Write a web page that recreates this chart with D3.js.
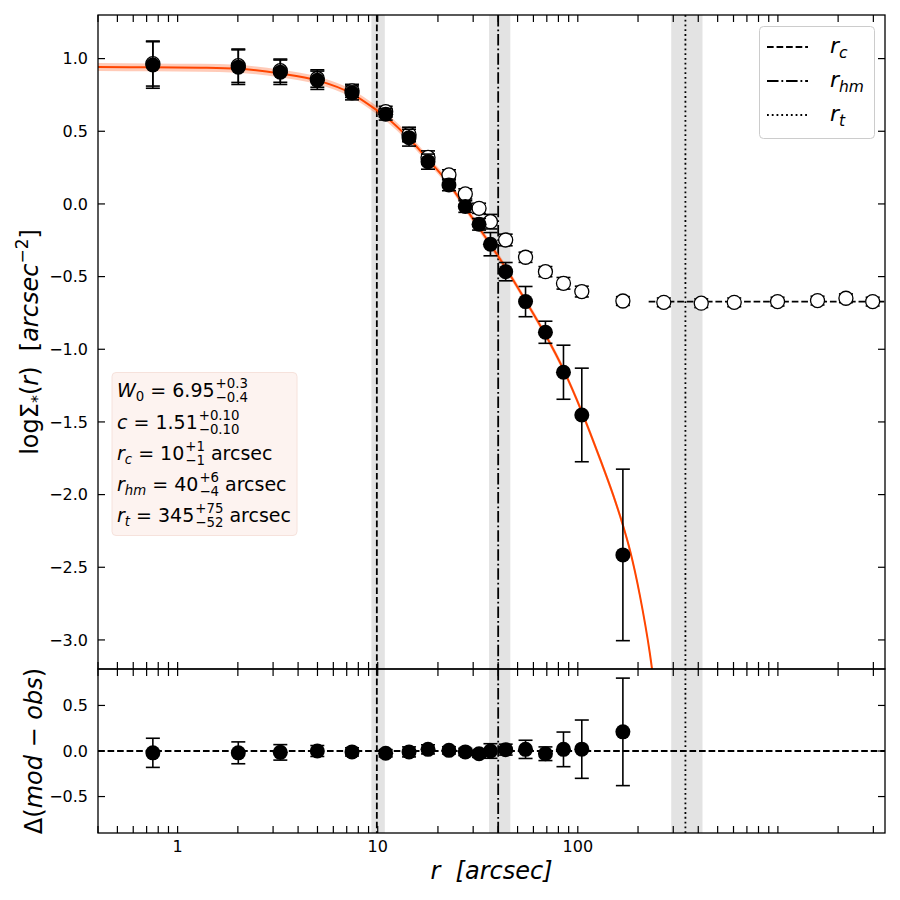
<!DOCTYPE html>
<html><head><meta charset="utf-8">
<script src="https://cdn.jsdelivr.net/npm/d3@7"></script>
<style>body{margin:0;background:#fff} svg{display:block} text{font-family:"DejaVu Sans",sans-serif;fill:#000}</style>
</head><body>
<svg id="c" width="900" height="900"></svg>
<script>
// ---------- data ----------
const rObs = [0.752, 2.01, 3.26, 4.99, 7.44, 10.96, 14.34, 17.84, 22.7, 27.4, 32.1, 36.6, 43.6, 54.8, 68.9, 84.8, 104.7, 168];
const logSigma = [0.956, 0.941, 0.906, 0.851, 0.764, 0.617, 0.456, 0.291, 0.131, -0.018, -0.140, -0.277, -0.466, -0.672, -0.883, -1.158, -1.452, -2.415];
const logSigmaErr = [0.16, 0.119, 0.084, 0.063, 0.048, 0.04, 0.058, 0.052, 0.04, 0.04, 0.04, 0.08, 0.063, 0.104, 0.076, 0.186, 0.322, 0.59];

const rAll = [0.752, 2.01, 3.26, 4.99, 7.44, 10.96, 14.34, 17.84, 22.7, 27.4, 32.1, 36.6, 43.6, 54.8, 68.9, 84.8, 104.7, 168, 269, 414, 605, 996, 1578, 2188, 2976];
const logSigmaAll = [0.966, 0.951, 0.917, 0.863, 0.778, 0.635, 0.478, 0.32, 0.20, 0.069, -0.03, -0.122, -0.248, -0.367, -0.466, -0.546, -0.603, -0.668, -0.677, -0.683, -0.677, -0.672, -0.665, -0.649, -0.672];
const logSigmaAllErr = [0.155, 0.115, 0.08, 0.06, 0.045, 0.037, 0.05, 0.045, 0.035, 0.035, 0.035, 0.05, 0.04, 0.035, 0.035, 0.04, 0.037, 0.03, 0.03, 0.03, 0.03, 0.03, 0.03, 0.03, 0.03];

const bgLevel = -0.672;
const bgStartR = 226;

const rModel = [0.4, 0.75, 1.3, 2.0, 3.26, 4.99, 7.44, 9.85, 10.96, 14.34, 17.84, 22.7, 27.4, 32.1, 36.6, 43.6, 54.8, 68.9, 84.8, 104.7, 130, 150, 168, 182, 204, 229, 257];
const logModel = [0.942, 0.94, 0.937, 0.93, 0.897, 0.85, 0.758, 0.647, 0.60, 0.45, 0.305, 0.138, -0.025, -0.165, -0.28, -0.44, -0.665, -0.90, -1.14, -1.43, -1.765, -2.0, -2.21, -2.38, -2.69, -3.09, -3.63];
const logModelBand = [0.027, 0.027, 0.027, 0.027, 0.027, 0.027, 0.027, 0.027, 0.027, 0.027, 0.025, 0.024, 0.024, 0.024, 0.024, 0.022, 0.022, 0.022, 0.022, 0.022, 0.022, 0.022, 0.022, 0.022, 0.022, 0.022, 0.022];

const resid = [-0.02, -0.02, -0.015, 0.0, -0.01, -0.025, -0.01, 0.018, 0.007, -0.01, -0.03, 0.0, 0.015, 0.018, -0.03, 0.018, 0.02, 0.21];
const residErr = [0.16, 0.12, 0.085, 0.06, 0.045, 0.04, 0.055, 0.05, 0.04, 0.04, 0.04, 0.08, 0.06, 0.1, 0.075, 0.19, 0.32, 0.59];

// characteristic radii: value, lower, upper
const radiiNames = ["c", "hm", "t"];
const radiiVal = [9.9, 40, 345];
const radiiLo = [9.3, 36, 293];
const radiiHi = [10.85, 46, 420];

const yTopTicks = [-3.0, -2.5, -2.0, -1.5, -1.0, -0.5, 0.0, 0.5, 1.0];
const yBotTicks = [-0.5, 0.0, 0.5];
const xTickVals = [1, 10, 100];
const xTickLabels = ["1", "10", "100"];

const paramLines = [
  [{t:"W", it:1}, {t:"0", sub:1}, {t:"\u00a0=\u00a06.95"}, {ss:["+0.3","\u22120.4"]}],
  [{t:"c", it:1}, {t:"\u00a0=\u00a01.51"}, {ss:["+0.10","\u22120.10"]}],
  [{t:"r", it:1}, {t:"c", sub:1, it:1}, {t:"\u00a0=\u00a010"}, {ss:["+1","\u22121"]}, {t:"\u00a0arcsec"}],
  [{t:"r", it:1}, {t:"hm", sub:1, it:1}, {t:"\u00a0=\u00a040"}, {ss:["+6","\u22124"]}, {t:"\u00a0arcsec"}],
  [{t:"r", it:1}, {t:"t", sub:1, it:1}, {t:"\u00a0=\u00a0345"}, {ss:["+75","\u221252"]}, {t:"\u00a0arcsec"}]
];

// ---------- layout ----------
const L = 98, R = 885, T = 15, M = 669, B = 833;
const svg = d3.select("#c");
const x = d3.scaleLog().domain([0.4, 3430]).range([L, R]);
const yT = d3.scaleLinear().domain([-3.2, 1.3]).range([M, T]);
const yB = d3.scaleLinear().domain([-0.9, 0.9]).range([B, M]);

const defs = svg.append("defs");
defs.append("clipPath").attr("id","clipT").append("rect").attr("x",L).attr("y",T).attr("width",R-L).attr("height",M-T);
defs.append("clipPath").attr("id","clipB").append("rect").attr("x",L).attr("y",M).attr("width",R-L).attr("height",B-M);

const gT = svg.append("g").attr("clip-path","url(#clipT)");
const gB = svg.append("g").attr("clip-path","url(#clipB)");

const LW = 1.8;
const dashStyles = [`${3.7*LW},${1.6*LW}`, `${6.4*LW},${1.6*LW},${1*LW},${1.6*LW}`, `${1*LW},${1.65*LW}`];

// grey bands + vertical lines
[[gT, yT], [gB, yB]].forEach(([g, ys]) => {
  radiiVal.forEach((v, i) => {
    g.append("rect").attr("x", x(radiiLo[i])).attr("width", x(radiiHi[i]) - x(radiiLo[i]))
      .attr("y", ys.range()[1]).attr("height", ys.range()[0] - ys.range()[1])
      .attr("fill", "#808080").attr("fill-opacity", 0.22);
  });
});
[[gT, yT], [gB, yB]].forEach(([g, ys]) => {
  radiiVal.forEach((v, i) => {
    g.append("line").attr("x1", x(v)).attr("x2", x(v)).attr("y1", ys.range()[1]).attr("y2", ys.range()[0])
      .attr("stroke", "#000").attr("stroke-width", LW).attr("stroke-dasharray", dashStyles[i]);
  });
});

// background level line
gT.append("line").attr("x1", x(bgStartR)).attr("x2", R).attr("y1", yT(bgLevel)).attr("y2", yT(bgLevel))
  .attr("stroke", "#000").attr("stroke-width", LW).attr("stroke-dasharray", dashStyles[0]);
// zero residual line
gB.append("line").attr("x1", L).attr("x2", R).attr("y1", yB(0)).attr("y2", yB(0))
  .attr("stroke", "#000").attr("stroke-width", LW).attr("stroke-dasharray", dashStyles[0]);

// model band and curve
const modelData = rModel.map((r, i) => ({r, v: logModel[i], e: logModelBand[i]}));
gT.append("path").datum(modelData)
  .attr("d", d3.area().x(d => x(d.r)).y0(d => yT(d.v - d.e)).y1(d => yT(d.v + d.e)).curve(d3.curveMonotoneX))
  .attr("fill", "#ff4500").attr("fill-opacity", 0.28);
gT.append("path").datum(modelData)
  .attr("d", d3.line().x(d => x(d.r)).y(d => yT(d.v)).curve(d3.curveMonotoneX))
  .attr("fill", "none").attr("stroke", "#ff4500").attr("stroke-width", 2);

function errBars(g, ys, xs, vs, es) {
  xs.forEach((r, i) => {
    const cx = x(r), y1 = ys(vs[i] + es[i]), y2 = ys(vs[i] - es[i]);
    g.append("line").attr("x1", cx).attr("x2", cx).attr("y1", y1).attr("y2", y2).attr("stroke", "#000").attr("stroke-width", 1.6);
    [y1, y2].forEach(yy => g.append("line").attr("x1", cx - 7).attr("x2", cx + 7).attr("y1", yy).attr("y2", yy).attr("stroke", "#000").attr("stroke-width", 1.6));
  });
}

// open points (all stars)
errBars(gT, yT, rAll, logSigmaAll, logSigmaAllErr);
gT.selectAll("circle.open").data(rAll).enter().append("circle")
  .attr("cx", d => x(d)).attr("cy", (d, i) => yT(logSigmaAll[i])).attr("r", 7)
  .attr("fill", "#fff").attr("stroke", "#000").attr("stroke-width", 1.3);

// filled points (background-subtracted)
errBars(gT, yT, rObs, logSigma, logSigmaErr);
gT.selectAll("circle.fill").data(rObs).enter().append("circle")
  .attr("cx", d => x(d)).attr("cy", (d, i) => yT(logSigma[i])).attr("r", 7.5).attr("fill", "#000");

// residuals
errBars(gB, yB, rObs, resid, residErr);
gB.selectAll("circle.res").data(rObs).enter().append("circle")
  .attr("cx", d => x(d)).attr("cy", (d, i) => yB(resid[i])).attr("r", 7.5).attr("fill", "#000");

// ---------- axes ----------
const axG = svg.append("g");
const TL = 7;
const xAllTicks = [];
[0.1, 1, 10, 100, 1000].forEach(dec => { for (let k = 1; k <= 9; k++) { const v = k * dec; if (v >= 0.4 && v <= 3430) xAllTicks.push(v); } });
function xTicksAt(y0, dir) {
  xAllTicks.forEach(v => axG.append("line").attr("x1", x(v)).attr("x2", x(v)).attr("y1", y0).attr("y2", y0 + dir * TL).attr("stroke", "#000").attr("stroke-width", 1.2));
}
xTicksAt(T, 1); xTicksAt(M, -1); xTicksAt(M, 1); xTicksAt(B, -1);
function yTicksAt(ys, vals) {
  vals.forEach(v => {
    const yy = ys(v);
    axG.append("line").attr("x1", L).attr("x2", L + TL).attr("y1", yy).attr("y2", yy).attr("stroke", "#000").attr("stroke-width", 1.2);
    axG.append("line").attr("x1", R).attr("x2", R - TL).attr("y1", yy).attr("y2", yy).attr("stroke", "#000").attr("stroke-width", 1.2);
    axG.append("text").attr("x", L - 10).attr("y", yy).attr("dy", "0.36em").attr("text-anchor", "end").attr("font-size", 16).text(d3.format(".1f")(v));
  });
}
yTicksAt(yT, yTopTicks);
yTicksAt(yB, yBotTicks);
xTickVals.forEach((v, i) => axG.append("text").attr("x", x(v)).attr("y", B + 19).attr("text-anchor", "middle").attr("font-size", 16).text(xTickLabels[i]));

axG.append("rect").attr("x", L).attr("y", T).attr("width", R - L).attr("height", M - T).attr("fill", "none").attr("stroke", "#000").attr("stroke-width", 1.3);
axG.append("rect").attr("x", L).attr("y", M).attr("width", R - L).attr("height", B - M).attr("fill", "none").attr("stroke", "#000").attr("stroke-width", 1.3);

// axis labels
const xl = svg.append("text").attr("x", (L + R) / 2).attr("y", 879).attr("text-anchor", "middle").attr("font-size", 24).attr("font-style", "italic");
xl.text("r\u00a0\u00a0[arcsec]");

const yl = svg.append("text").attr("transform", `translate(38,${(T + M) / 2}) rotate(-90)`).attr("text-anchor", "middle").attr("font-size", 24);
yl.append("tspan").text("log\u03a3");
yl.append("tspan").attr("font-size", 16).attr("dy", 5).text("*");
yl.append("tspan").attr("dy", -5).text("(");
yl.append("tspan").attr("font-style", "italic").text("r");
yl.append("tspan").text(")\u00a0\u00a0[");
yl.append("tspan").attr("font-style", "italic").text("arcsec");
yl.append("tspan").attr("font-size", 17).attr("dy", -10).text("\u22122");
yl.append("tspan").attr("dy", 10).text("]");

const yl2 = svg.append("text").attr("transform", `translate(42,${(M + B) / 2}) rotate(-90)`).attr("text-anchor", "middle").attr("font-size", 24);
yl2.append("tspan").text("\u0394(");
yl2.append("tspan").attr("font-style", "italic").text("mod");
yl2.append("tspan").text("\u00a0\u2212\u00a0");
yl2.append("tspan").attr("font-style", "italic").text("obs");
yl2.append("tspan").text(")");

// ---------- parameter box ----------
svg.append("rect").attr("x", 112).attr("y", 372.5).attr("width", 185).attr("height", 163).attr("rx", 4)
  .attr("fill", "#fdf3f0").attr("stroke", "#f6e2dc").attr("stroke-width", 1);
const pg = svg.append("g");
function mathLine(g, x0, y0, parts, fs) {
  let cx = x0;
  parts.forEach(p => {
    if (p.ss) {
      const f = fs * 0.7;
      const a = g.append("text").attr("x", cx + 1).attr("y", y0 - fs * 0.47).attr("font-size", f).text(p.ss[0]);
      const b = g.append("text").attr("x", cx + 1).attr("y", y0 + fs * 0.25).attr("font-size", f).text(p.ss[1]);
      cx += 1 + Math.max(a.node().getComputedTextLength(), b.node().getComputedTextLength());
    } else {
      const t = g.append("text").attr("x", cx).attr("y", y0 + (p.sub ? fs * 0.2 : 0))
        .attr("font-size", p.sub ? fs * 0.7 : fs).attr("font-style", p.it ? "italic" : "normal").text(p.t);
      cx += t.node().getComputedTextLength();
    }
  });
}
const baseY = [397, 429, 460, 491, 522];
paramLines.forEach((ln, i) => mathLine(pg, 117, baseY[i], ln, 19));

// ---------- legend ----------
svg.append("rect").attr("x", 759.5).attr("y", 26.5).attr("width", 115).attr("height", 112).attr("rx", 4)
  .attr("fill", "#fff").attr("fill-opacity", 0.8).attr("stroke", "#cccccc");
const legY = [47, 81, 115];
radiiNames.forEach((n, i) => {
  svg.append("line").attr("x1", 767).attr("x2", 808).attr("y1", legY[i]).attr("y2", legY[i])
    .attr("stroke", "#000").attr("stroke-width", LW).attr("stroke-dasharray", dashStyles[i]);
  const t = svg.append("text").attr("x", 830).attr("y", legY[i] + 6).attr("font-size", 22).attr("font-style", "italic");
  t.append("tspan").text("r");
  t.append("tspan").attr("font-size", 15.5).attr("dy", 5).text(n);
});
</script>
</body></html>
